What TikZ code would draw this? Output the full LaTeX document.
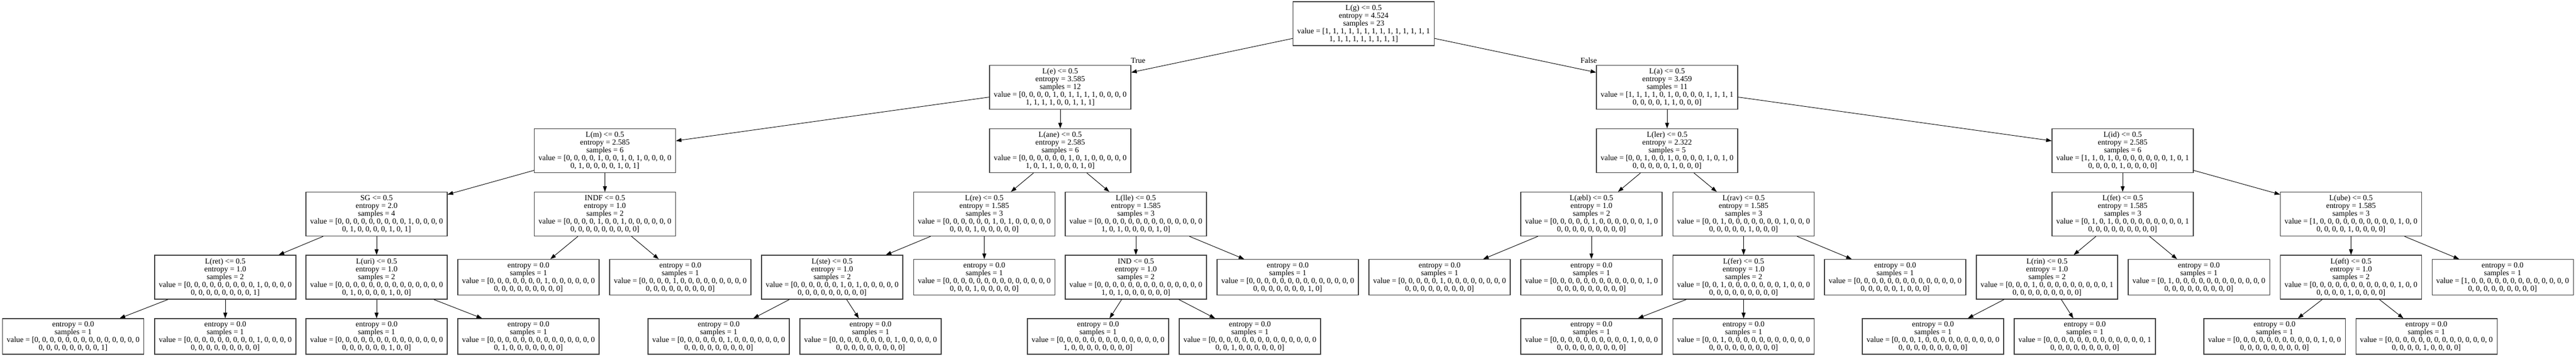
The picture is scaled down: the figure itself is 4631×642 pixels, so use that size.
\documentclass[tikz,border=0pt]{standalone}
\usepackage{fontspec}
\setmainfont{Liberation Serif}
\usetikzlibrary{arrows.meta}
\newcommand{\Zfourteen}{0, 0, 0, 0, 0, 0, 0, 0, 0, 0, 0, 0, 0, 0}
\newcommand{\Znine}{0, 0, 0, 0, 0, 0, 0, 0, 0}
\tikzset{
  box/.style={draw=black!75, line width=1.1pt, rectangle, align=center,
    minimum width=254pt, inner xsep=2pt, inner ysep=2pt,
    font=\fontsize{14pt}{14pt}\selectfont},
  dec/.style={box, minimum height=79pt},
  leafbox/.style={box, minimum height=64pt},
  arr/.style={-{Triangle[length=10pt,width=7pt]}, line width=0.9pt, black},
  lbl/.style={font=\fontsize{14pt}{14pt}\selectfont, inner sep=0pt}
}
\begin{document}
\begin{tikzpicture}[x=1pt,y=-1pt]
\fill[white] (0,0) rectangle (4631,642);
\useasboundingbox (0,0) rectangle (4631,642);

% level 0
\node[dec] (n0) at (2451.5,42.5) {L(g) <= 0.5\\entropy = 4.524\\samples = 23\\value = [1, 1, 1, 1, 1, 1, 1, 1, 1, 1, 1, 1, 1, 1\\1, 1, 1, 1, 1, 1, 1, 1, 1]};
% level 1
\node[dec] (n1) at (1906,157) {L(e) <= 0.5\\entropy = 3.585\\samples = 12\\value = [0, 0, 0, 0, 1, 0, 1, 1, 1, 1, 0, 0, 0, 0\\1, 1, 1, 1, 0, 0, 1, 1, 1]};
\node[dec] (n2) at (2997,157) {L(a) <= 0.5\\entropy = 3.459\\samples = 11\\value = [1, 1, 1, 1, 0, 1, 0, 0, 0, 0, 1, 1, 1, 1\\0, 0, 0, 0, 1, 1, 0, 0, 0]};
% level 2
\node[dec] (n3) at (1087.5,271) {L(m) <= 0.5\\entropy = 2.585\\samples = 6\\value = [0, 0, 0, 0, 1, 0, 0, 1, 0, 1, 0, 0, 0, 0\\0, 1, 0, 0, 0, 0, 1, 0, 1]};
\node[dec] (n4) at (1906,271) {L(ane) <= 0.5\\entropy = 2.585\\samples = 6\\value = [0, 0, 0, 0, 0, 0, 1, 0, 1, 0, 0, 0, 0, 0\\1, 0, 1, 1, 0, 0, 0, 1, 0]};
\node[dec] (n5) at (2997,271) {L(ler) <= 0.5\\entropy = 2.322\\samples = 5\\value = [0, 0, 1, 0, 0, 1, 0, 0, 0, 0, 1, 0, 1, 0\\0, 0, 0, 0, 0, 1, 0, 0, 0]};
\node[dec] (n6) at (3816,271) {L(id) <= 0.5\\entropy = 2.585\\samples = 6\\value = [1, 1, 0, 1, 0, 0, 0, 0, 0, 0, 0, 1, 0, 1\\0, 0, 0, 0, 1, 0, 0, 0, 0]};
% level 3
\node[dec] (n7) at (677,385) {SG <= 0.5\\entropy = 2.0\\samples = 4\\value = [0, 0, 0, 0, 0, 0, 0, 0, 0, 1, 0, 0, 0, 0\\0, 1, 0, 0, 0, 0, 1, 0, 1]};
\node[dec] (n8) at (1087.5,385) {INDF <= 0.5\\entropy = 1.0\\samples = 2\\value = [0, 0, 0, 0, 1, 0, 0, 1, 0, 0, 0, 0, 0, 0\\\Znine]};
\node[dec] (n9) at (1769.5,385) {L(re) <= 0.5\\entropy = 1.585\\samples = 3\\value = [0, 0, 0, 0, 0, 0, 1, 0, 1, 0, 0, 0, 0, 0\\0, 0, 0, 1, 0, 0, 0, 0, 0]};
\node[dec] (n10) at (2042,385) {L(lle) <= 0.5\\entropy = 1.585\\samples = 3\\value = [\Zfourteen\\1, 0, 1, 0, 0, 0, 0, 1, 0]};
\node[dec] (n11) at (2861,385) {L(æbl) <= 0.5\\entropy = 1.0\\samples = 2\\value = [0, 0, 0, 0, 0, 1, 0, 0, 0, 0, 0, 0, 1, 0\\\Znine]};
\node[dec] (n12) at (3134.5,385) {L(rav) <= 0.5\\entropy = 1.585\\samples = 3\\value = [0, 0, 1, 0, 0, 0, 0, 0, 0, 0, 1, 0, 0, 0\\0, 0, 0, 0, 0, 1, 0, 0, 0]};
\node[dec] (n13) at (3816,385) {L(fet) <= 0.5\\entropy = 1.585\\samples = 3\\value = [0, 1, 0, 1, 0, 0, 0, 0, 0, 0, 0, 0, 0, 1\\\Znine]};
\node[dec] (n14) at (4226.5,385) {L(ube) <= 0.5\\entropy = 1.585\\samples = 3\\value = [1, 0, 0, 0, 0, 0, 0, 0, 0, 0, 0, 1, 0, 0\\0, 0, 0, 0, 1, 0, 0, 0, 0]};
% level 4
\node[dec] (n15) at (405,498.5) {L(ret) <= 0.5\\entropy = 1.0\\samples = 2\\value = [0, 0, 0, 0, 0, 0, 0, 0, 0, 1, 0, 0, 0, 0\\0, 0, 0, 0, 0, 0, 0, 0, 1]};
\node[dec] (n16) at (677,498.5) {L(uri) <= 0.5\\entropy = 1.0\\samples = 2\\value = [\Zfourteen\\0, 1, 0, 0, 0, 0, 1, 0, 0]};
\node[leafbox] (n17) at (950,498.5) {entropy = 0.0\\samples = 1\\value = [0, 0, 0, 0, 0, 0, 0, 1, 0, 0, 0, 0, 0, 0\\\Znine]};
\node[leafbox] (n18) at (1223,498.5) {entropy = 0.0\\samples = 1\\value = [0, 0, 0, 0, 1, 0, 0, 0, 0, 0, 0, 0, 0, 0\\\Znine]};
\node[dec] (n19) at (1496,498.5) {L(ste) <= 0.5\\entropy = 1.0\\samples = 2\\value = [0, 0, 0, 0, 0, 0, 1, 0, 1, 0, 0, 0, 0, 0\\\Znine]};
\node[leafbox] (n20) at (1769.5,498.5) {entropy = 0.0\\samples = 1\\value = [\Zfourteen\\0, 0, 0, 1, 0, 0, 0, 0, 0]};
\node[dec] (n21) at (2042,498.5) {IND <= 0.5\\entropy = 1.0\\samples = 2\\value = [\Zfourteen\\1, 0, 1, 0, 0, 0, 0, 0, 0]};
\node[leafbox] (n22) at (2315,498.5) {entropy = 0.0\\samples = 1\\value = [\Zfourteen\\0, 0, 0, 0, 0, 0, 0, 1, 0]};
\node[leafbox] (n23) at (2588,498.5) {entropy = 0.0\\samples = 1\\value = [0, 0, 0, 0, 0, 1, 0, 0, 0, 0, 0, 0, 0, 0\\\Znine]};
\node[leafbox] (n24) at (2861,498.5) {entropy = 0.0\\samples = 1\\value = [0, 0, 0, 0, 0, 0, 0, 0, 0, 0, 0, 0, 1, 0\\\Znine]};
\node[dec] (n25) at (3134.5,498.5) {L(fer) <= 0.5\\entropy = 1.0\\samples = 2\\value = [0, 0, 1, 0, 0, 0, 0, 0, 0, 0, 1, 0, 0, 0\\\Znine]};
\node[leafbox] (n26) at (3407,498.5) {entropy = 0.0\\samples = 1\\value = [\Zfourteen\\0, 0, 0, 0, 0, 1, 0, 0, 0]};
\node[dec] (n27) at (3680,498.5) {L(rin) <= 0.5\\entropy = 1.0\\samples = 2\\value = [0, 0, 0, 1, 0, 0, 0, 0, 0, 0, 0, 0, 0, 1\\\Znine]};
\node[leafbox] (n28) at (3953,498.5) {entropy = 0.0\\samples = 1\\value = [0, 1, 0, 0, 0, 0, 0, 0, 0, 0, 0, 0, 0, 0\\\Znine]};
\node[dec] (n29) at (4226.5,498.5) {L(øft) <= 0.5\\entropy = 1.0\\samples = 2\\value = [0, 0, 0, 0, 0, 0, 0, 0, 0, 0, 0, 1, 0, 0\\0, 0, 0, 0, 1, 0, 0, 0, 0]};
\node[leafbox] (n30) at (4499,498.5) {entropy = 0.0\\samples = 1\\value = [1, 0, 0, 0, 0, 0, 0, 0, 0, 0, 0, 0, 0, 0\\\Znine]};
% level 5
\node[leafbox] (n31) at (131.5,605) {entropy = 0.0\\samples = 1\\value = [\Zfourteen\\0, 0, 0, 0, 0, 0, 0, 0, 1]};
\node[leafbox] (n32) at (405,605) {entropy = 0.0\\samples = 1\\value = [0, 0, 0, 0, 0, 0, 0, 0, 0, 1, 0, 0, 0, 0\\\Znine]};
\node[leafbox] (n33) at (677,605) {entropy = 0.0\\samples = 1\\value = [\Zfourteen\\0, 0, 0, 0, 0, 0, 1, 0, 0]};
\node[leafbox] (n34) at (950,605) {entropy = 0.0\\samples = 1\\value = [\Zfourteen\\0, 1, 0, 0, 0, 0, 0, 0, 0]};
\node[leafbox] (n35) at (1292,605) {entropy = 0.0\\samples = 1\\value = [0, 0, 0, 0, 0, 0, 1, 0, 0, 0, 0, 0, 0, 0\\\Znine]};
\node[leafbox] (n36) at (1565,605) {entropy = 0.0\\samples = 1\\value = [0, 0, 0, 0, 0, 0, 0, 0, 1, 0, 0, 0, 0, 0\\\Znine]};
\node[leafbox] (n37) at (1974,605) {entropy = 0.0\\samples = 1\\value = [\Zfourteen\\1, 0, 0, 0, 0, 0, 0, 0, 0]};
\node[leafbox] (n38) at (2247,605) {entropy = 0.0\\samples = 1\\value = [\Zfourteen\\0, 0, 1, 0, 0, 0, 0, 0, 0]};
\node[leafbox] (n39) at (2861,605) {entropy = 0.0\\samples = 1\\value = [0, 0, 0, 0, 0, 0, 0, 0, 0, 0, 1, 0, 0, 0\\\Znine]};
\node[leafbox] (n40) at (3134.5,605) {entropy = 0.0\\samples = 1\\value = [0, 0, 1, 0, 0, 0, 0, 0, 0, 0, 0, 0, 0, 0\\\Znine]};
\node[leafbox] (n41) at (3475,605) {entropy = 0.0\\samples = 1\\value = [0, 0, 0, 1, 0, 0, 0, 0, 0, 0, 0, 0, 0, 0\\\Znine]};
\node[leafbox] (n42) at (3748,605) {entropy = 0.0\\samples = 1\\value = [0, 0, 0, 0, 0, 0, 0, 0, 0, 0, 0, 0, 0, 1\\\Znine]};
\node[leafbox] (n43) at (4089,605) {entropy = 0.0\\samples = 1\\value = [0, 0, 0, 0, 0, 0, 0, 0, 0, 0, 0, 1, 0, 0\\\Znine]};
\node[leafbox] (n44) at (4362,605) {entropy = 0.0\\samples = 1\\value = [\Zfourteen\\0, 0, 0, 0, 1, 0, 0, 0, 0]};

% edge labels
\node[lbl] (tlab) at (2046,109) {True};
\node[lbl] (flab) at (2856,109) {False};

% edges
\foreach \p/\c in {n0/n1, n0/n2, n1/n3, n1/n4, n2/n5, n2/n6,
  n3/n7, n3/n8, n4/n9, n4/n10, n5/n11, n5/n12, n6/n13, n6/n14,
  n7/n15, n7/n16, n8/n17, n8/n18, n9/n19, n9/n20, n10/n21, n10/n22,
  n11/n23, n11/n24, n12/n25, n12/n26, n13/n27, n13/n28, n14/n29, n14/n30,
  n15/n31, n15/n32, n16/n33, n16/n34, n19/n35, n19/n36, n21/n37, n21/n38,
  n25/n39, n25/n40, n27/n41, n27/n42, n29/n43, n29/n44}
  \draw[arr] (\p) -- (\c);
\end{tikzpicture}
\end{document}
